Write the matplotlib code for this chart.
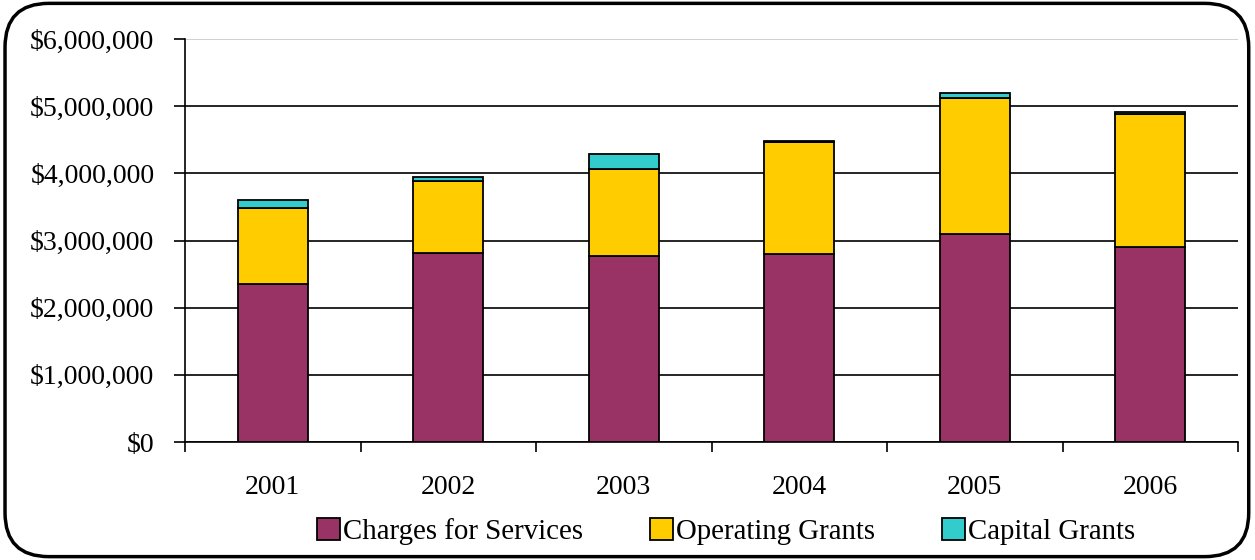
import matplotlib.pyplot as plt
from matplotlib.patches import FancyBboxPatch
from matplotlib.ticker import FuncFormatter
import numpy as np

years = ["2001", "2002", "2003", "2004", "2005", "2006"]
charges = [2354000, 2810000, 2770000, 2800000, 3100000, 2910000]
operating = [1123000, 1075000, 1300000, 1660000, 2020000, 1980000]
capital = [129000, 60000, 220000, 20000, 80000, 20000]

plt.rcParams['font.family'] = ['Liberation Serif', 'DejaVu Serif']
plt.rcParams['font.size'] = 20

fig = plt.figure(figsize=(12.55, 5.6), dpi=100)
ax = fig.add_axes([185 / 1255, 1 - 442 / 560, (1238 - 185) / 1255, (442 - 39) / 560])

x = np.arange(len(years))
w = 0.4
ax.bar(x, charges, w, color="#993366", edgecolor="black", lw=1.3, label="Charges for Services", zorder=3)
ax.bar(x, operating, w, bottom=charges, color="#FFCC00", edgecolor="black", lw=1.3,
       label="Operating Grants", zorder=3)
bottom2 = np.array(charges) + np.array(operating)
ax.bar(x, capital, w, bottom=bottom2, color="#33CCCC", edgecolor="black", lw=1.3,
       label="Capital Grants", zorder=3)

ax.set_xlim(-0.5, len(years) - 0.5)
ax.set_ylim(0, 6000000)
ax.set_yticks(np.arange(0, 6000001, 1000000))
ax.yaxis.set_major_formatter(FuncFormatter(lambda v, p: "${:,.0f}".format(v)))

ax.set_xticks(np.arange(-0.5, len(years), 1))
ax.set_xticklabels([])
ax.set_xticks(x, minor=True)
ax.set_xticklabels(years, minor=True)
ax.tick_params(axis="x", which="major", direction="out", length=7, width=1.2)
ax.tick_params(axis="x", which="minor", length=0, pad=24)
ax.tick_params(axis="y", direction="out", length=8, width=1.2, pad=14)

for s in ["top", "right"]:
    ax.spines[s].set_visible(False)
ax.spines["left"].set_linewidth(1.2)
ax.spines["bottom"].set_linewidth(1.2)

ax.grid(axis="y", color="black", lw=1.2, zorder=0)
glines = ax.get_ygridlines()
glines[-1].set_color("#c8c8c8")

ax.legend(loc="upper center", bbox_to_anchor=(0.514, -0.16), ncol=3, frameon=False,
          fontsize=20.8, handlelength=0.8, handleheight=0.8, handletextpad=0.12,
          columnspacing=2.3, borderaxespad=0)

frame = FancyBboxPatch((0.004, 0.006), 0.991, 0.988, boxstyle="round,pad=0,rounding_size=0.035",
                       transform=fig.transFigure, fill=False, lw=2.5, ec="black",
                       mutation_aspect=1255 / 560)
fig.patches.append(frame)

fig.savefig("out.png", dpi=100)
